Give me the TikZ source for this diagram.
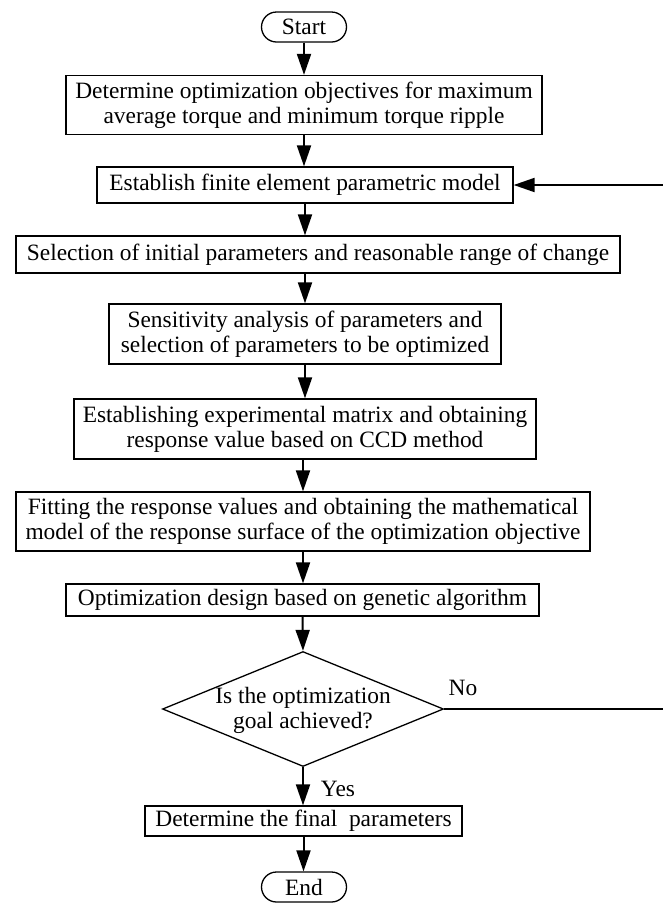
\documentclass[tikz,border=0pt]{standalone}
\usepackage{fontspec}
\setmainfont{Liberation Serif}
\usetikzlibrary{arrows.meta,shapes.geometric,shapes.misc}
\begin{document}
\begin{tikzpicture}[x=1pt,y=-1pt,
  every node/.style={font=\fontsize{23.4}{25}\selectfont},
  box/.style={draw,line width=1.3pt,rectangle,inner sep=0pt,align=center},
  term/.style={draw,line width=1.3pt,rounded rectangle,inner sep=0pt,minimum width=85pt,minimum height=30pt},
  dec/.style={draw,line width=1.3pt,diamond,inner sep=0pt,aspect=2.44,align=center,minimum width=281pt,minimum height=115pt},
  arr/.style={line width=2pt,-{Triangle[length=21pt,width=14pt]}},
  lbl/.style={inner sep=0pt}]
\useasboundingbox (0,0) rectangle (662,903);
\node[term] (start) at (304,27) {Start};
\node[box,minimum width=476pt,minimum height=59pt] (b1) at (304,105) {Determine optimization objectives for maximum\\average torque and minimum torque ripple};
\node[box,minimum width=416pt,minimum height=36pt] (b2) at (305,185) {Establish finite element parametric model};
\node[box,minimum width=604pt,minimum height=37pt] (b3) at (318,254.5) {Selection of initial parameters and reasonable range of change};
\node[box,minimum width=392pt,minimum height=60pt] (b4) at (305,334) {Sensitivity analysis of parameters and\\selection of parameters to be optimized};
\node[box,minimum width=462pt,minimum height=60pt] (b5) at (305,429) {Establishing experimental matrix and obtaining\\response value based on CCD method};
\node[box,minimum width=574pt,minimum height=59pt] (b6) at (303,521.5) {Fitting the response values and obtaining the mathematical\\model of the response surface of the optimization objective};
\node[box,minimum width=473pt,minimum height=32pt] (b7) at (302.5,600) {Optimization design based on genetic algorithm};
\node[dec] (d) at (303,709) {};
\node[lbl,align=center] (dt) at (303,710) {Is the optimization\\goal achieved?};
\node[box,minimum width=317pt,minimum height=30pt] (b8) at (303.5,821) {Determine the final\ \ parameters};
\node[term] (end) at (304,887) {End};
\node[lbl] (no) at (463,688) {No};
\node[lbl] (yes) at (338,789) {Yes};
\coordinate (fb) at (700,709);
\draw[arr] (start.south) -- (start.south |- b1.north);
\draw[arr] (b1.south) -- (b1.south |- b2.north);
\draw[arr] (b2.south) -- (b2.south |- b3.north);
\draw[arr] (b2.south |- b3.south) -- (b2.south |- b4.north);
\draw[arr] (b4.south) -- (b4.south |- b5.north);
\draw[arr] (b6.north |- b5.south) -- (b6.north);
\draw[arr] (b6.south) -- (b6.south |- b7.north);
\draw[arr] (b7.south) -- (d.north);
\draw[arr] (d.south) -- (d.south |- b8.north);
\draw[arr] (b8.south) -- (b8.south |- end.north);
\draw[arr] (d.east) -- (fb) |- (b2.east);
\end{tikzpicture}
\end{document}
